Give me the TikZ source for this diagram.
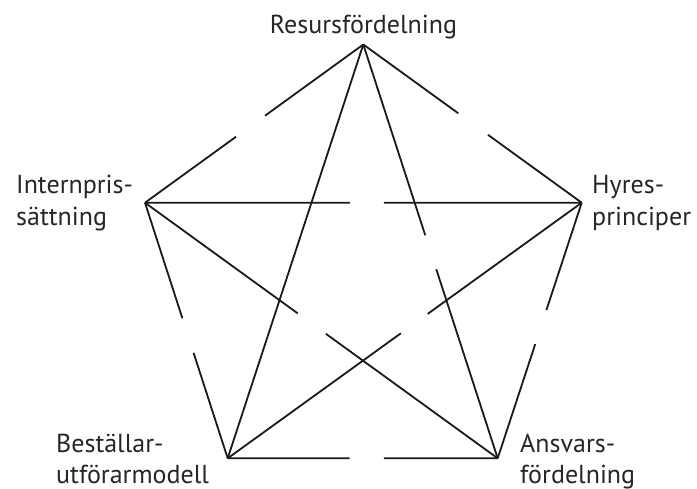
\documentclass[tikz,border=0pt]{standalone}
\usepackage{fontspec}
\setmainfont{PT Sans}
\usetikzlibrary{calc}
\tikzset{
  link/.style={draw=black!90, line width=1.8pt},
  lbl/.style={anchor=base west, inner sep=0pt, font=\fontsize{26}{31}\selectfont, text=black!85}
}
\begin{document}
\begin{tikzpicture}[x=1pt,y=-1pt]
\useasboundingbox (0,0) rectangle (697,488);
% corners of the pentagon
\coordinate (T)  at (363.3,44.5);
\coordinate (L)  at (145,202.7);
\coordinate (R)  at (581.7,202.7);
\coordinate (BL) at (227.7,458.3);
\coordinate (BR) at (497.7,458.3);

% outer edges, each broken near its middle
\draw[link] (T) -- ($(T)!0.450!(L)$);   \draw[link] ($(T)!0.583!(L)$) -- (L);
\draw[link] (T) -- ($(T)!0.435!(R)$);   \draw[link] ($(T)!0.571!(R)$) -- (R);
\draw[link] (L) -- ($(L)!0.452!(BL)$);  \draw[link] ($(L)!0.587!(BL)$) -- (BL);
\draw[link] (R) -- ($(R)!0.420!(BR)$);  \draw[link] ($(R)!0.553!(BR)$) -- (BR);
\draw[link] (BL) -- ($(BL)!0.452!(BR)$); \draw[link] ($(BL)!0.578!(BR)$) -- (BR);

% inner star
\draw[link] (L) -- ($(L)!0.469!(R)$);   \draw[link] ($(L)!0.547!(R)$) -- (R);
\draw[link] (T) -- (BL);
\draw[link] (T) -- ($(T)!0.461!(BR)$);  \draw[link] ($(T)!0.543!(BR)$) -- (BR);
\draw[link] (L) -- ($(L)!0.433!(BR)$);  \draw[link] ($(L)!0.513!(BR)$) -- (BR);
\draw[link] (R) -- ($(R)!0.435!(BL)$);  \draw[link] ($(R)!0.511!(BL)$) -- (BL);

% labels
\node[lbl, anchor=base] (res) at (363.5,33) {Resursfördelning};
\node[lbl] (int1) at (16,193) {Internpris-};
\node[lbl] (int2) at (16,225) {sättning};
\node[lbl] (hyr1) at (592,193) {Hyres-};
\node[lbl] (hyr2) at (592,225) {principer};
\node[lbl] (bes1) at (56,452) {Beställar-};
\node[lbl] (bes2) at (56,483) {utförarmodell};
\node[lbl] (ans1) at (520,452) {Ansvars-};
\node[lbl] (ans2) at (520,483) {fördelning};
\end{tikzpicture}
\end{document}
